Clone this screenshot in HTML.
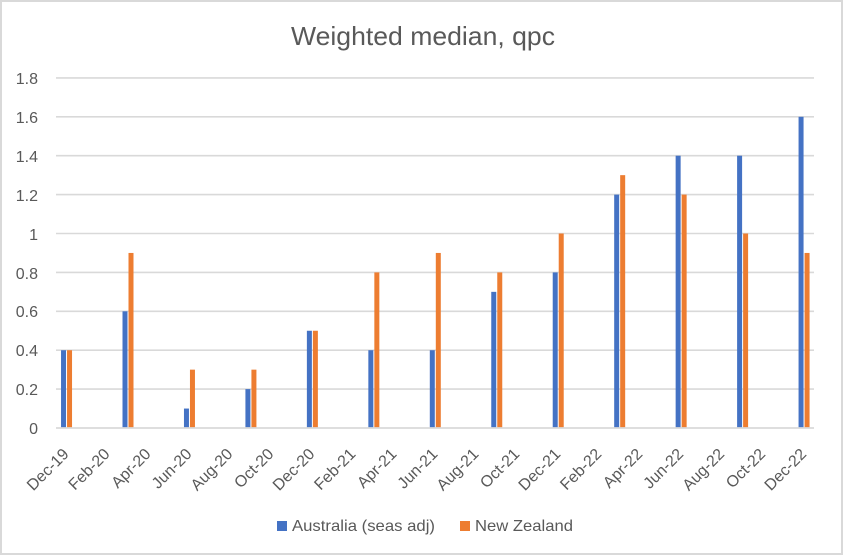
<!DOCTYPE html>
<html>
<head>
<meta charset="utf-8">
<style>
  html,body{margin:0;padding:0;background:#fff;}
  svg{display:block;}
  text{font-family:"Liberation Sans",Arial,sans-serif;fill:#595959;}
</style>
</head>
<body>
<svg width="843" height="556" viewBox="0 0 843 556" xmlns="http://www.w3.org/2000/svg">
  <rect x="0" y="0" width="843" height="556" fill="#fff"/>
  <rect x="1" y="1" width="841" height="553" fill="none" stroke="#d9d9d9" stroke-width="2"/>

  <!-- Title -->
  <text x="423" y="45" font-size="26" text-anchor="middle" textLength="264" lengthAdjust="spacingAndGlyphs">Weighted median, qpc</text>

  <!-- Gridlines -->
  <g stroke="#d9d9d9" stroke-width="1.6">
    <line x1="56" x2="814" y1="77.9" y2="77.9"/>
    <line x1="56" x2="814" y1="116.8" y2="116.8"/>
    <line x1="56" x2="814" y1="155.7" y2="155.7"/>
    <line x1="56" x2="814" y1="194.6" y2="194.6"/>
    <line x1="56" x2="814" y1="233.5" y2="233.5"/>
    <line x1="56" x2="814" y1="272.4" y2="272.4"/>
    <line x1="56" x2="814" y1="311.3" y2="311.3"/>
    <line x1="56" x2="814" y1="350.2" y2="350.2"/>
    <line x1="56" x2="814" y1="389.1" y2="389.1"/>
  </g>

  <!-- Y labels -->
  <g font-size="16" text-anchor="end">
    <text x="38" y="84">1.8</text>
    <text x="38" y="123">1.6</text>
    <text x="38" y="162">1.4</text>
    <text x="38" y="201">1.2</text>
    <text x="38" y="240">1</text>
    <text x="38" y="279">0.8</text>
    <text x="38" y="317">0.6</text>
    <text x="38" y="356">0.4</text>
    <text x="38" y="395">0.2</text>
    <text x="38" y="434">0</text>
  </g>

  <!-- Bars: Australia -->
  <g fill="#4472C4">
    <rect x="61.04" y="350.2" width="5" height="77.8"/>
    <rect x="122.5" y="311.3" width="5" height="116.7"/>
    <rect x="183.96" y="408.55" width="5" height="19.45"/>
    <rect x="245.42" y="389.1" width="5" height="38.9"/>
    <rect x="306.88" y="330.75" width="5" height="97.25"/>
    <rect x="368.34" y="350.2" width="5" height="77.8"/>
    <rect x="429.8" y="350.2" width="5" height="77.8"/>
    <rect x="491.26" y="291.85" width="5" height="136.15"/>
    <rect x="552.72" y="272.4" width="5" height="155.6"/>
    <rect x="614.18" y="194.6" width="5" height="233.4"/>
    <rect x="675.64" y="155.7" width="5" height="272.3"/>
    <rect x="737.1" y="155.7" width="5" height="272.3"/>
    <rect x="798.56" y="116.8" width="5" height="311.2"/>
  </g>
  <!-- Bars: New Zealand -->
  <g fill="#ED7D31">
    <rect x="67.04" y="350.2" width="5" height="77.8"/>
    <rect x="128.5" y="252.95" width="5" height="175.05"/>
    <rect x="189.96" y="369.65" width="5" height="58.35"/>
    <rect x="251.42" y="369.65" width="5" height="58.35"/>
    <rect x="312.88" y="330.75" width="5" height="97.25"/>
    <rect x="374.34" y="272.4" width="5" height="155.6"/>
    <rect x="435.8" y="252.95" width="5" height="175.05"/>
    <rect x="497.26" y="272.4" width="5" height="155.6"/>
    <rect x="558.72" y="233.5" width="5" height="194.5"/>
    <rect x="620.18" y="175.15" width="5" height="252.85"/>
    <rect x="681.64" y="194.6" width="5" height="233.4"/>
    <rect x="743.1" y="233.5" width="5" height="194.5"/>
    <rect x="804.56" y="252.95" width="5" height="175.05"/>
  </g>

  <!-- Axis line -->
  <line x1="56" x2="814" y1="428" y2="428" stroke="#d9d9d9" stroke-width="1.8"/>

  <!-- X labels -->
  <g font-size="16" text-anchor="end">
    <text transform="translate(69.7,455) rotate(-45)">Dec-19</text>
    <text transform="translate(110.7,455) rotate(-45)">Feb-20</text>
    <text transform="translate(151.7,455) rotate(-45)">Apr-20</text>
    <text transform="translate(192.7,455) rotate(-45)">Jun-20</text>
    <text transform="translate(233.6,455) rotate(-45)">Aug-20</text>
    <text transform="translate(274.6,455) rotate(-45)">Oct-20</text>
    <text transform="translate(315.6,455) rotate(-45)">Dec-20</text>
    <text transform="translate(356.5,455) rotate(-45)">Feb-21</text>
    <text transform="translate(397.5,455) rotate(-45)">Apr-21</text>
    <text transform="translate(438.5,455) rotate(-45)">Jun-21</text>
    <text transform="translate(479.5,455) rotate(-45)">Aug-21</text>
    <text transform="translate(520.4,455) rotate(-45)">Oct-21</text>
    <text transform="translate(561.4,455) rotate(-45)">Dec-21</text>
    <text transform="translate(602.4,455) rotate(-45)">Feb-22</text>
    <text transform="translate(643.4,455) rotate(-45)">Apr-22</text>
    <text transform="translate(684.3,455) rotate(-45)">Jun-22</text>
    <text transform="translate(725.3,455) rotate(-45)">Aug-22</text>
    <text transform="translate(766.3,455) rotate(-45)">Oct-22</text>
    <text transform="translate(807.3,455) rotate(-45)">Dec-22</text>
  </g>

  <!-- Legend -->
  <rect x="277" y="521" width="10" height="10" fill="#4472C4"/>
  <text x="292" y="531" font-size="16" textLength="143" lengthAdjust="spacingAndGlyphs">Australia (seas adj)</text>
  <rect x="460" y="521" width="10" height="10" fill="#ED7D31"/>
  <text x="475" y="531" font-size="16" textLength="98" lengthAdjust="spacingAndGlyphs">New Zealand</text>
</svg>
</body>
</html>
